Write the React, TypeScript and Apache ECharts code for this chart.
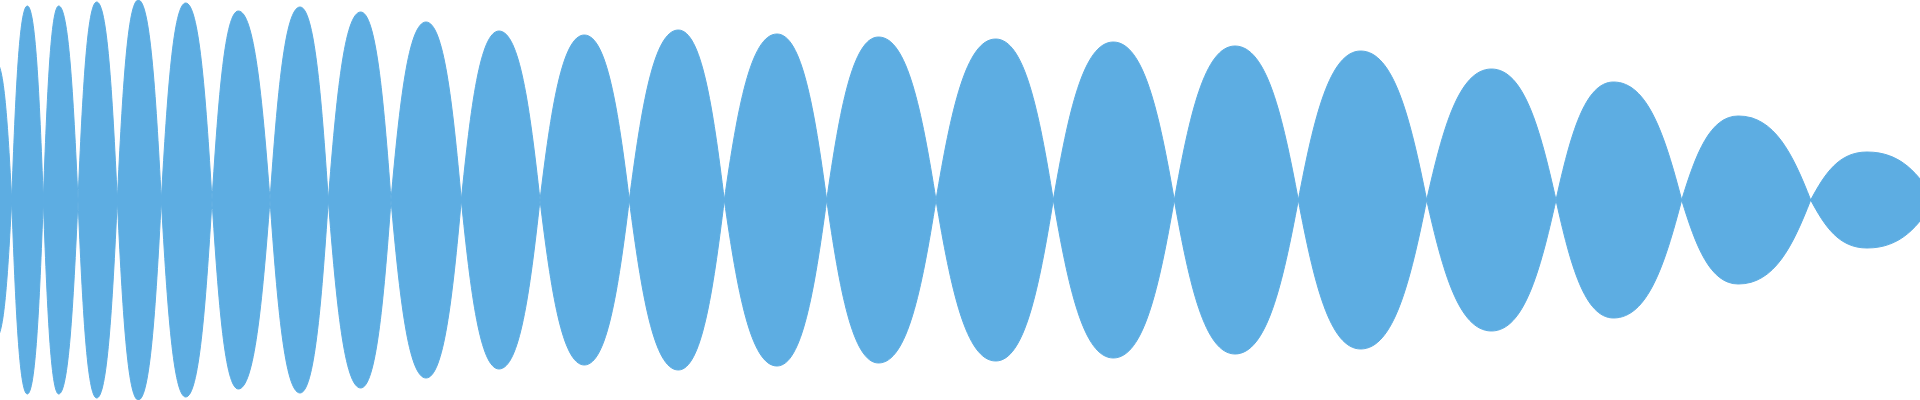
import React, { useEffect, useRef } from "react";
import * as echarts from "echarts";

// Zero crossings of the envelope (x positions, chart units)
const crossings = [
  -17, 11.7, 43.3, 78, 117.3, 161.3, 212, 270, 328.3, 391, 461.3, 540, 629.3,
  724.3, 826.7, 936, 1053.3, 1174.3, 1298.3, 1426.7, 1556, 1681.7, 1810.7, 1935,
];
// Peak position of each lobe
const peakX = [
  -4, 27.3, 58.7, 96.7, 138.3, 185.7, 238.3, 300, 360.7, 426, 499, 584.3, 678.3,
  777, 878.5, 995.7, 1113.3, 1235, 1360.7, 1491.5, 1613.5, 1738.3, 1867,
];
// Peak amplitude of each lobe (mirrored above and below zero)
const peakAmp = [
  138, 194, 194, 198, 200, 197, 189, 193, 188, 178, 169, 165, 170, 166, 163,
  161, 158, 154, 149, 131, 118, 84, 48,
];

const COLOR = "#5dade2";

// each lobe: [start crossing, peak x, end crossing, amplitude]
const lobes = peakX.map((px, i) => [crossings[i], px, crossings[i + 1], peakAmp[i]]);

// cubic Bezier handles for a rounded quarter lobe between crossing and peak
const HX1 = 0.25;
const HY1 = 0.55;
const HX2 = 0.5;

function renderLobe(_params: any, api: any) {
  const x0 = api.value(0);
  const xp = api.value(1);
  const x1 = api.value(2);
  const amp = api.value(3);
  const A = api.coord([x0, 0]);
  const T = api.coord([xp, amp]);
  const Bt = api.coord([xp, -amp]);
  const B = api.coord([x1, 0]);
  const yc = A[1];
  const aL = T[0] - A[0];
  const aR = B[0] - T[0];
  const up = T[1];
  const dn = Bt[1];
  const f = (n: number) => n.toFixed(2);
  const d =
    `M${f(A[0])},${f(yc)} ` +
    `C${f(A[0] + HX1 * aL)},${f(yc + HY1 * (up - yc))} ${f(A[0] + HX2 * aL)},${f(up)} ${f(T[0])},${f(up)} ` +
    `C${f(T[0] + (1 - HX2) * aR)},${f(up)} ${f(B[0] - HX1 * aR)},${f(yc + HY1 * (up - yc))} ${f(B[0])},${f(yc)} ` +
    `C${f(B[0] - HX1 * aR)},${f(yc + HY1 * (dn - yc))} ${f(T[0] + (1 - HX2) * aR)},${f(dn)} ${f(T[0])},${f(dn)} ` +
    `C${f(A[0] + HX2 * aL)},${f(dn)} ${f(A[0] + HX1 * aL)},${f(yc + HY1 * (dn - yc))} ${f(A[0])},${f(yc)} Z`;
  return {
    type: "path",
    shape: { pathData: d },
    style: { fill: COLOR, stroke: COLOR, lineWidth: 1 },
  };
}

export default function App() {
  const ref = useRef<HTMLDivElement>(null);
  useEffect(() => {
    if (!ref.current) return;
    const chart = echarts.init(ref.current, undefined, { renderer: "svg" });
    chart.setOption({
      animation: false,
      backgroundColor: "#ffffff",
      grid: { left: 0, right: 0, top: 0, bottom: 0 },
      xAxis: { type: "value", min: 0, max: 1920, show: false },
      yAxis: { type: "value", min: -200, max: 200, show: false },
      series: [
        {
          type: "custom",
          name: "envelope",
          silent: true,
          renderItem: renderLobe,
          encode: { x: [0, 1, 2], y: 3 },
          data: lobes,
        },
      ],
    });
    return () => chart.dispose();
  }, []);
  return (
    <div
      ref={ref}
      style={{ position: "fixed", left: 0, top: 0, width: "1920px", height: "400px" }}
    />
  );
}
